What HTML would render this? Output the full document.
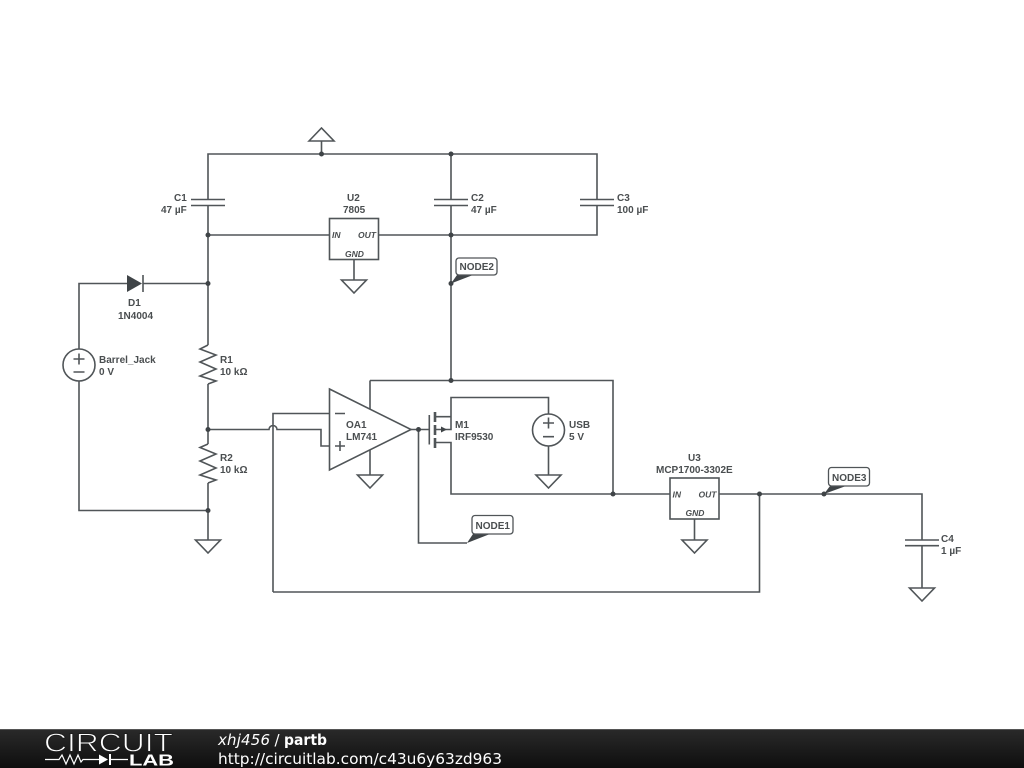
<!DOCTYPE html>
<html><head><meta charset="utf-8"><style>html,body{margin:0;padding:0;background:#fff;width:1024px;height:768px;overflow:hidden}svg{display:block}</style></head><body>
<svg xmlns="http://www.w3.org/2000/svg" width="1024" height="768" viewBox="0 0 1024 768">
<defs><linearGradient id="g" x1="0" y1="0" x2="0" y2="1"><stop offset="0" stop-color="#2a2a2a"/><stop offset="1" stop-color="#0e0e0e"/></linearGradient></defs>
<rect width="1024" height="768" fill="#fff"/>
<g fill="none" stroke="#505558" stroke-width="1.6">
<path d="M208 199.500V154H597V199.500M597 205.500V235H208M208 205.500V345M208 384V444M208 483V510.500H79V381M79 349V283.500H127M143 283.500H208"/>
<path d="M191 199.500H225M191 205.500H225M434 199.500H468M434 205.500H468M580 199.500H614M580 205.500H614"/>
<path d="M321.500 154V141M309 141L321.500 128L334 141Z"/>
<path d="M451 154V199.500M451 205.500V380.500"/>
<!-- U2 -->
<rect x="329.500" y="218.500" width="49" height="41" fill="#fff"/>
<path d="M354 259.500V280M341.500 280H366.500L354 293Z"/>
<!-- R1 R2 -->
<path d="M208 345L200 349L216 355L200 362L216 369L200 376L216 381L208 384"/>
<path d="M208 444L200 447.500L216 454L200 461L216 468L200 475L216 480L208 483"/>
<path d="M208 510.500V540M195.500 540H220.500L208 553Z"/>
<!-- input wires -->
<path d="M208 429.500H269A3.500 3.500 0 0 1 277 429.500H321V446H330M273 592V413.500H330M273 592H759.500V494"/>
<!-- opamp -->
<path d="M370 380.500H613V494M370 380.500V409"/>
<path d="M329.500 389L411 429.500L329.500 470Z" fill="#fff"/>
<path d="M370 450V475M357.500 475H382.500L370 488Z"/>
<path d="M335 413.500H345M335 446H345M340 441V451"/>
<!-- M1 -->
<path d="M411 429.500H429M418.500 429.500V543H467"/>
<path d="M429.300 415V444.500"/>
<path d="M435 412V422M435 425V435M435 438V448" stroke-width="2.600"/>
<path d="M436 416.700H451M436 429.500H451V397.500H548.500V414M436 442.500H451V494H670M548.500 446V475M536 475H561L548.500 488Z"/>
<!-- U3 -->
<rect x="670" y="478" width="49" height="41" fill="#fff"/>
<path d="M694.500 519V540M682 540H707L694.500 553Z"/>
<path d="M719 494H922V540M905 540H939M905 545.700H939M922 545.700V588M909.500 588H934.500L922 601Z"/>
<!-- sources -->
<circle cx="79" cy="365" r="16" fill="#fff"/>
<circle cx="548.500" cy="430" r="16" fill="#fff"/>
<path d="M73.500 359H84.500M79 353.500V364.500M73.500 372H84.500M543 423H554M548.500 417.500V428.500M543 436.700H554"/>
<!-- diode bar -->
<path d="M143 275V292"/>
</g>
<path d="M127 275L142 283.500L127 292Z" fill="#3f4447"/>
<path d="M441 426.500L447 429.500L441 432.500Z" fill="#3f4447"/>
<g fill="#3f4447">
<circle cx="321.500" cy="154" r="2.500"/><circle cx="451" cy="154" r="2.500"/><circle cx="208" cy="235" r="2.500"/><circle cx="451" cy="235" r="2.500"/>
<circle cx="208" cy="283.500" r="2.500"/><circle cx="451" cy="283.500" r="2.500"/><circle cx="451" cy="380.500" r="2.500"/><circle cx="208" cy="429.500" r="2.500"/>
<circle cx="418.500" cy="429.500" r="2.500"/><circle cx="613" cy="494" r="2.500"/><circle cx="759.500" cy="494" r="2.500"/><circle cx="824" cy="494" r="2.500"/><circle cx="208" cy="510.500" r="2.500"/>
<path d="M451 283.500L457 275H473Z"/><path d="M467 543L473 534H490Z"/><path d="M824 494L830 486H846Z"/>
</g>
<g fill="#fff" stroke="#505558" stroke-width="1.300">
<rect x="456" y="258" width="41" height="17" rx="3"/>
<rect x="472" y="515.500" width="41" height="18.500" rx="3"/>
<rect x="828.500" y="467.500" width="41" height="18.500" rx="3"/>
</g>
<g font-family="'Liberation Sans',sans-serif" font-size="10px" font-weight="bold" fill="#4a4e50">
<text x="174" y="201">C1</text><text x="161" y="213">47 µF</text>
<text x="471" y="201">C2</text><text x="471" y="213">47 µF</text>
<text x="617" y="201">C3</text><text x="617" y="213">100 µF</text>
<text x="347" y="201">U2</text><text x="343" y="213">7805</text>
<text x="128" y="306">D1</text><text x="118" y="319">1N4004</text>
<text x="99" y="363">Barrel_Jack</text><text x="99" y="375">0 V</text>
<text x="220" y="363">R1</text><text x="220" y="375">10 kΩ</text>
<text x="220" y="461">R2</text><text x="220" y="473">10 kΩ</text>
<text x="346" y="428">OA1</text><text x="346" y="440">LM741</text>
<text x="455" y="428">M1</text><text x="455" y="440">IRF9530</text>
<text x="569" y="428">USB</text><text x="569" y="440">5 V</text>
<text x="688" y="461">U3</text><text x="656" y="473">MCP1700-3302E</text>
<text x="941" y="542">C4</text><text x="941" y="554">1 µF</text>
<text x="459.500" y="270">NODE2</text><text x="475.500" y="529">NODE1</text><text x="832" y="481">NODE3</text>
</g>
<g font-family="'Liberation Sans',sans-serif" font-size="8.500px" font-style="italic" font-weight="bold" fill="#4a4e50">
<text x="332" y="238">IN</text><text x="358" y="238">OUT</text><text x="345" y="257">GND</text>
<text x="672.500" y="497.500">IN</text><text x="698.500" y="497.500">OUT</text><text x="685.500" y="516">GND</text>
</g>
<rect y="729" width="1024" height="39" fill="url(#g)"/>
<rect y="729" width="1024" height="1" fill="#555"/>
<g font-family="'Liberation Sans',sans-serif" fill="#fff">
<text x="44" y="751.500" font-size="25.500px" textLength="129" lengthAdjust="spacingAndGlyphs" stroke="#1e1e1e" stroke-width=".9" paint-order="fill">CIRCUIT</text>
<text x="129" y="765.500" font-size="15.500px" font-weight="bold" textLength="45" lengthAdjust="spacingAndGlyphs">LAB</text>
</g>
<path d="M45 759.500H59L62 755L66 764L70 755L74 764L78 755L81 762L83 759.500H99M110 759.500H128" fill="none" stroke="#fff" stroke-width="1.200"/>
<path d="M99 754.500L108 759.500L99 764.500ZM109 754H111V765H109Z" fill="#fff"/>
<g font-family="'DejaVu Sans',sans-serif" font-size="15px" fill="#fff">
<text x="218" y="745" font-style="italic" textLength="52">xhj456</text>
<text x="274.500" y="745">/</text>
<text x="284" y="745" font-weight="bold" textLength="43" lengthAdjust="spacingAndGlyphs">partb</text>
<text x="218" y="764" font-size="15.400px" textLength="284" lengthAdjust="spacingAndGlyphs">http://circuitlab.com/c43u6y63zd963</text>
</g>
</svg>
</body></html>
